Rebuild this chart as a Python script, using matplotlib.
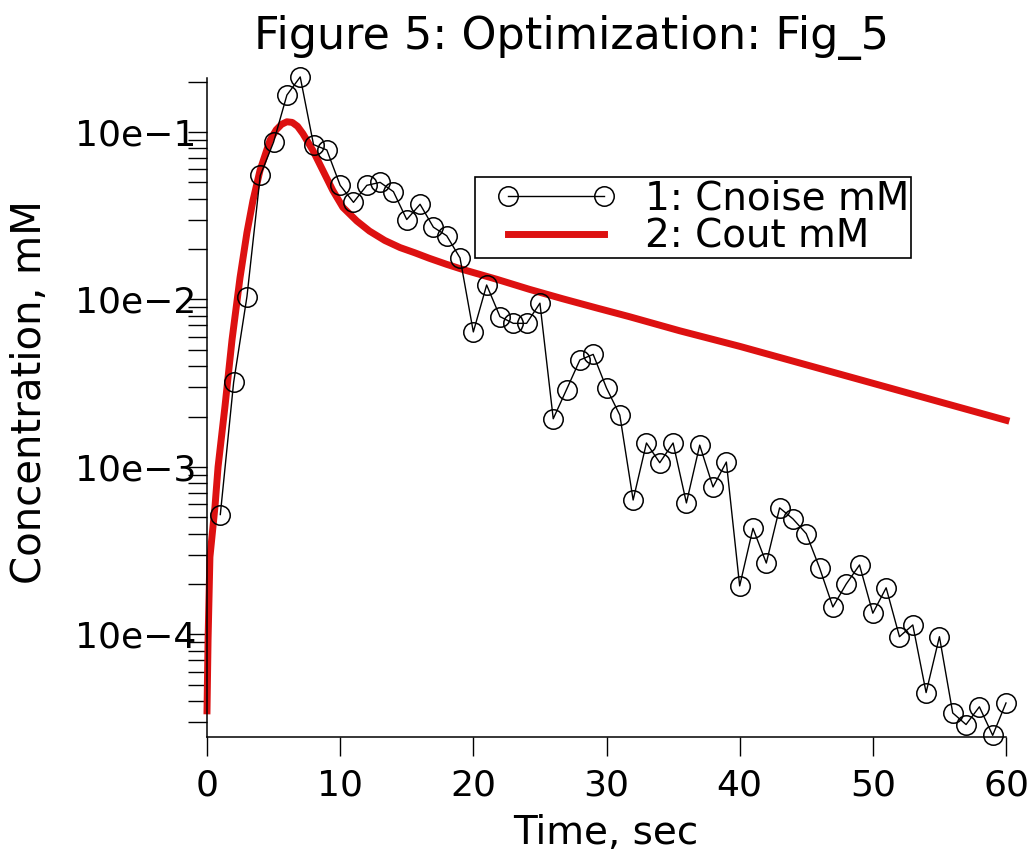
import numpy as np
import matplotlib
matplotlib.use("Agg")
import matplotlib.pyplot as plt
from matplotlib.lines import Line2D
from matplotlib.legend_handler import HandlerLine2D
from matplotlib.ticker import LogLocator, FuncFormatter, FixedLocator, NullFormatter

plt.rcParams['font.family'] = ['DejaVu Sans']

# noisy data, one point per second
t_noise = list(range(1, 61))
c_noise = [5.2e-4, 3.2e-3, 1.04e-2, 0.055, 0.087, 0.166, 0.213, 0.084, 0.078, 0.048,
           0.038, 0.048, 0.050, 0.044, 0.030, 0.037, 0.027, 0.024, 0.0177, 6.4e-3,
           0.0122, 7.9e-3, 7.2e-3, 7.2e-3, 9.5e-3, 1.94e-3, 2.9e-3, 4.35e-3, 4.7e-3, 2.96e-3,
           2.04e-3, 6.35e-4, 1.39e-3, 1.06e-3, 1.39e-3, 6.1e-4, 1.35e-3, 7.6e-4, 1.07e-3, 1.95e-4,
           4.3e-4, 2.67e-4, 5.7e-4, 4.9e-4, 4.0e-4, 2.5e-4, 1.46e-4, 2.0e-4, 2.6e-4, 1.34e-4,
           1.9e-4, 9.7e-5, 1.14e-4, 4.5e-5, 9.7e-5, 3.4e-5, 2.9e-5, 3.7e-5, 2.5e-5, 3.9e-5]

# fitted model curve
t_out = [0, 0.08, 0.22, 0.6, 0.83, 1.35, 1.88, 2.48, 3.0, 3.45, 3.98, 4.73, 5.2, 5.6,
         6.0, 6.4, 6.8, 7.2, 7.95, 8.7, 9.45, 10.2, 11.25, 12.2, 13.35, 14.5, 15.6, 16.7,
         18.0, 19.2, 21.75, 24.2, 26.7, 29.25, 31.7, 35.5, 40, 50, 60]
c_out = [3.5e-5, 9.3e-5, 2.9e-4, 5.8e-4, 1.0e-3, 2.3e-3, 5.75e-3, 0.0135, 0.0251, 0.0389,
         0.0589, 0.0891, 0.103, 0.111, 0.115, 0.114, 0.108, 0.0977, 0.0776, 0.0589, 0.0447,
         0.0355, 0.0294, 0.0256, 0.0225, 0.0204, 0.0190, 0.0176, 0.0162, 0.0151, 0.0132,
         0.0115, 0.0101, 8.9e-3, 7.9e-3, 6.5e-3, 5.25e-3, 3.16e-3, 1.9e-3]

x_ticks = [0, 10, 20, 30, 40, 50, 60]
labels = ["1: Cnoise mM", "2: Cout mM"]

fig = plt.figure(figsize=(10.34, 8.61), dpi=100)
ax = fig.add_axes([207 / 1034, 1 - 737 / 861, 799 / 1034, 659 / 861])

line_out, = ax.plot(t_out, c_out, color='#dd1111', lw=5, zorder=2, clip_on=False,
                    solid_joinstyle='round')
line_noise, = ax.plot(t_noise, c_noise, color='black', lw=1, marker='o', ms=14,
                      mfc='none', mec='black', mew=1.1, zorder=3, clip_on=False)

ax.set_yscale('log')
ax.set_xlim(0, 60)
ax.set_ylim(10 ** -4.612, 10 ** -0.678)

ax.xaxis.set_major_locator(FixedLocator(x_ticks))
ax.yaxis.set_major_locator(LogLocator(base=10))
ax.yaxis.set_minor_locator(LogLocator(base=10, subs=np.arange(2, 10)))
ax.yaxis.set_minor_formatter(NullFormatter())
ax.yaxis.set_major_formatter(FuncFormatter(lambda v, p: "10e\u2212%d" % round(-np.log10(v))))

ax.tick_params(axis='both', which='both', direction='out', length=14, width=1)
ax.tick_params(axis='y', which='major', labelsize=26, pad=-6)
ax.tick_params(axis='x', which='major', labelsize=26, pad=9)

for s in ['top', 'right']:
    ax.spines[s].set_visible(False)
for s in ['left', 'bottom']:
    ax.spines[s].set_linewidth(1.1)

fig.text(572 / 1034, 1 - 38 / 861, "Figure 5: Optimization: Fig_5", fontsize=32,
         ha='center', va='center')
fig.text(606 / 1034, 1 - 833 / 861, "Time, sec", fontsize=28, ha='center', va='center')
fig.text(30 / 1034, 1 - 392 / 861, "Concentration, mM", fontsize=29, rotation=90,
         ha='center', va='center')

leg = ax.legend([line_noise, line_out], labels, loc='upper left',
                bbox_to_anchor=(475 / 1034, 1 - 177 / 861), bbox_transform=fig.transFigure,
                fontsize=28, handlelength=3.25, handletextpad=1.05,
                borderpad=0.06, labelspacing=0.0, borderaxespad=0, fancybox=False,
                framealpha=1, edgecolor='black',
                handler_map={Line2D: HandlerLine2D(marker_pad=0, numpoints=2, xpad=0.8)})
leg.get_frame().set_linewidth(1.2)

fig.savefig("out.png", dpi=100)
